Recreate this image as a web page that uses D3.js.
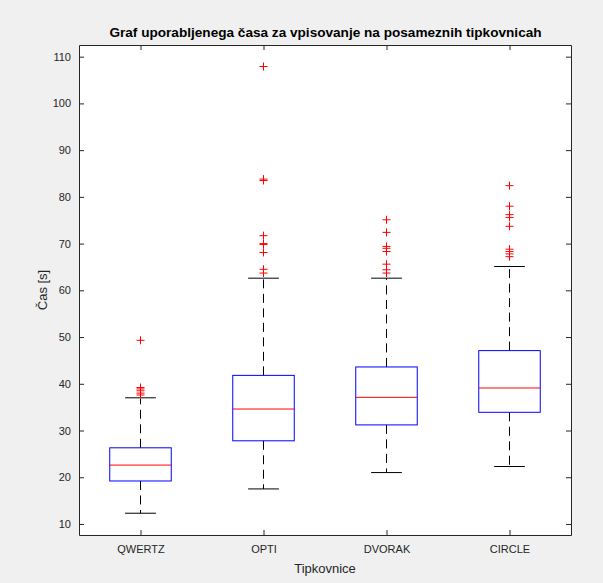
<!DOCTYPE html>
<html><head><meta charset="utf-8">
<script src="https://cdn.jsdelivr.net/npm/d3@7"></script>
<style>
html,body{margin:0;padding:0;background:#f0f0f0;}
svg{display:block;font-family:"Liberation Sans",Arial,sans-serif;}
</style></head>
<body>
<svg id="c" width="603" height="583"></svg>
<script>
const categories = ["QWERTZ", "OPTI", "DVORAK", "CIRCLE"];
const q1 = [19.2, 27.8, 31.2, 33.9];
const medians = [22.6, 34.6, 37.1, 39.1];
const q3 = [26.3, 41.8, 43.6, 47.1];
const whiskerLow = [12.3, 17.5, 21.0, 22.3];
const whiskerHigh = [37.0, 62.6, 62.6, 65.1];
const outliers = [
  [37.6, 38.0, 38.5, 38.9, 39.2, 49.3],
  [63.7, 64.5, 68.1, 69.8, 70.0, 71.7, 83.5, 83.8, 107.9],
  [63.7, 64.4, 65.6, 68.3, 69.0, 69.4, 72.4, 75.1],
  [67.2, 67.8, 68.3, 68.8, 73.7, 75.6, 76.2, 78.0, 82.4]
];
const yTicks = [10, 20, 30, 40, 50, 60, 70, 80, 90, 100, 110];
const titleText = "Graf uporabljenega časa za vpisovanje na posameznih tipkovnicah";
const xLabel = "Tipkovnice";
const yLabel = "Čas [s]";

const svg = d3.select("#c");
const L = 79, R = 571, T = 45, B = 535;
const x = d3.scaleLinear().domain([0.5, categories.length + 0.5]).range([L, R]);
const y = d3.scaleLinear().domain([7.64, 112.5]).range([B, T]);
const axisCol = "#262626";

svg.append("rect").attr("x", L).attr("y", T).attr("width", R - L).attr("height", B - T).attr("fill", "#fff");

const g = svg.append("g");
const boxW = 0.5, capW = 0.25;
categories.forEach((c, i) => {
  const cx = x(i + 1);
  const hw = (x(1 + boxW / 2) - x(1));
  const cw = (x(1 + capW / 2) - x(1));
  g.append("line").attr("x1", cx).attr("x2", cx).attr("y1", y(q3[i])).attr("y2", y(whiskerHigh[i]))
    .attr("stroke", "#000").attr("stroke-dasharray", "9,5.5").attr("stroke-width", 1);
  g.append("line").attr("x1", cx).attr("x2", cx).attr("y1", y(q1[i])).attr("y2", y(whiskerLow[i]))
    .attr("stroke", "#000").attr("stroke-dasharray", "9,5.5").attr("stroke-width", 1);
  [whiskerHigh[i], whiskerLow[i]].forEach(v => {
    g.append("line").attr("x1", cx - cw).attr("x2", cx + cw).attr("y1", y(v)).attr("y2", y(v))
      .attr("stroke", "#000").attr("stroke-width", 1);
  });
  g.append("rect").attr("x", cx - hw).attr("y", y(q3[i])).attr("width", 2 * hw).attr("height", y(q1[i]) - y(q3[i]))
    .attr("fill", "none").attr("stroke", "#0000ff").attr("stroke-width", 1);
  g.append("line").attr("x1", cx - hw).attr("x2", cx + hw).attr("y1", y(medians[i])).attr("y2", y(medians[i]))
    .attr("stroke", "#ff0000").attr("stroke-width", 1);
  outliers[i].forEach(v => {
    const py = y(v);
    g.append("path").attr("d", `M${cx - 4},${py}H${cx + 4}M${cx},${py - 4}V${py + 4}`)
      .attr("stroke", "#ff0000").attr("stroke-width", 1).attr("fill", "none");
  });
});

const tl = 5;
const yAxisL = d3.axisLeft(y).tickValues(yTicks).tickSizeInner(-tl).tickSizeOuter(0).tickPadding(8);
const gy = svg.append("g").attr("transform", `translate(${L},0)`).call(yAxisL);
const yAxisR = d3.axisRight(y).tickValues(yTicks).tickSizeInner(-tl).tickSizeOuter(0).tickFormat("");
const gyr = svg.append("g").attr("transform", `translate(${R},0)`).call(yAxisR);
const xAxisB = d3.axisBottom(x).tickValues(categories.map((d, i) => i + 1)).tickFormat((d) => categories[d - 1])
  .tickSizeInner(-tl).tickSizeOuter(0).tickPadding(10);
const gx = svg.append("g").attr("transform", `translate(0,${B})`).call(xAxisB);
const xAxisT = d3.axisTop(x).tickValues(categories.map((d, i) => i + 1)).tickFormat("")
  .tickSizeInner(-tl).tickSizeOuter(0);
const gxt = svg.append("g").attr("transform", `translate(0,${T})`).call(xAxisT);
[gy, gyr, gx, gxt].forEach(a => {
  a.selectAll("path.domain").attr("stroke", axisCol);
  a.selectAll(".tick line").attr("stroke", axisCol);
  a.selectAll("text").attr("fill", axisCol).style("font-size", "11px").style("font-family", '"Liberation Sans",Arial,sans-serif');
});

svg.append("text").attr("x", 325.5).attr("y", 37).attr("text-anchor", "middle")
  .style("font-size", "13.6px").style("font-weight", "bold").attr("fill", "#000").text(titleText);
svg.append("text").attr("x", (L + R) / 2).attr("y", 573).attr("text-anchor", "middle")
  .style("font-size", "13px").attr("fill", axisCol).text(xLabel);
svg.append("text").attr("transform", `translate(47,${(T + B) / 2}) rotate(-90)`).attr("text-anchor", "middle")
  .style("font-size", "13px").attr("fill", axisCol).text(yLabel);
</script>
</body></html>
